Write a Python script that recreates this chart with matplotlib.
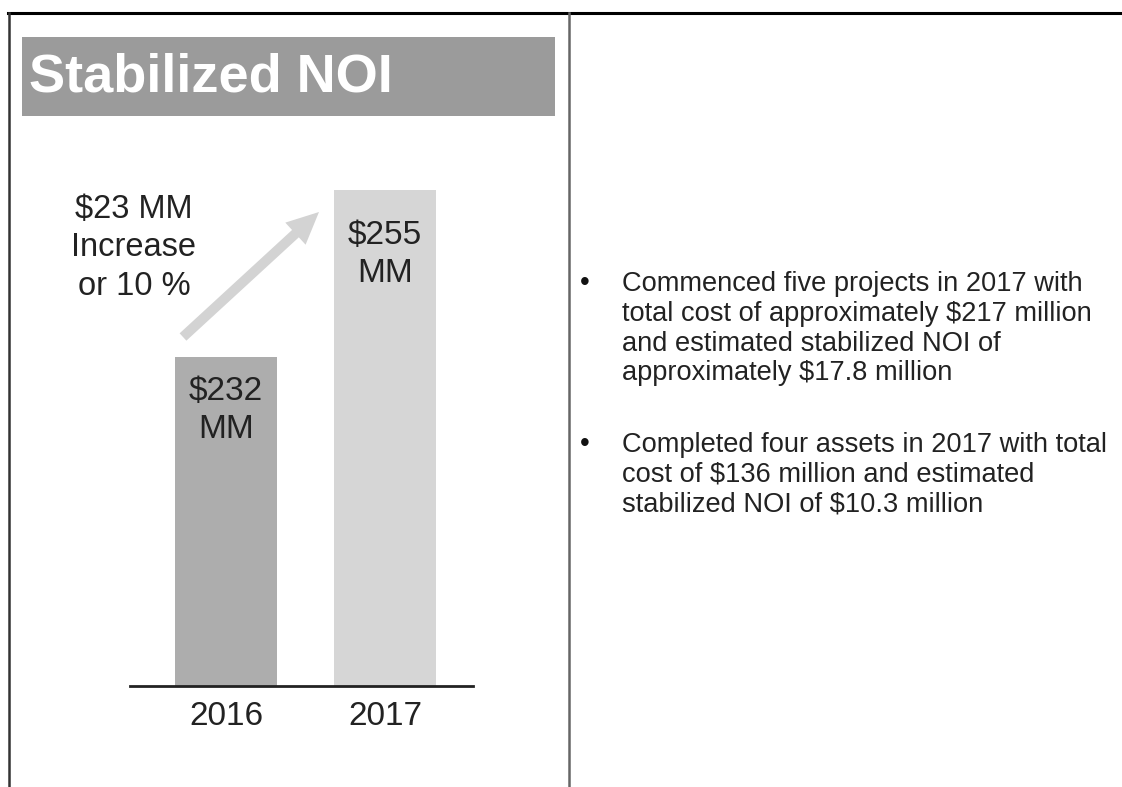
import matplotlib.pyplot as plt
from matplotlib.patches import Rectangle, FancyArrow

plt.rcParams["font.family"] = ["Liberation Sans", "DejaVu Sans"]

# data
years = ["2016", "2017"]
noi = [232, 255]
bar_labels = ["$232\nMM", "$255\nMM"]
bar_colors = ["#adadad", "#d6d6d6"]
change_note = "$23 MM\nIncrease\nor 10 %"
bullets = [
    "Commenced five projects in 2017 with\ntotal cost of approximately $217 million\n"
    "and estimated stabilized NOI of\napproximately $17.8 million",
    "Completed four assets in 2017 with total\ncost of $136 million and estimated\n"
    "stabilized NOI of $10.3 million",
]


def esc(s):
    return s.replace("$", "\\$")


W, H = 1122, 787
fig = plt.figure(figsize=(W / 100, H / 100), dpi=100)

# overlay in pixel coords for the frame, title box, arrow and bullet text
bg = fig.add_axes([0, 0, 1, 1])
bg.set_xlim(0, W)
bg.set_ylim(H, 0)
bg.axis("off")

bg.plot([8, W], [13, 13], color="black", lw=2.2)
bg.plot([9, 9], [13, H], color="#333333", lw=1.8)
bg.plot([569, 569], [13, H], color="#666666", lw=1.8)

bg.add_patch(Rectangle((22, 37), 533, 79, color="#9b9b9b", lw=0))
bg.text(29, 77, "Stabilized NOI", color="white", fontsize=39, weight="bold",
        va="center", ha="left")

bg.add_artist(FancyArrow(183, 337, 136, -125, width=10, head_width=30,
                         head_length=32, length_includes_head=True,
                         color="#d3d3d3", lw=0))
bg.text(134, 248, esc(change_note), fontsize=23.5, color="#222222",
        ha="center", va="center", linespacing=1.3)

for y0, txt in zip([271, 432], bullets):
    bg.text(585, y0 + 12, "\u2022", fontsize=20, color="#111111",
            ha="center", va="center")
    bg.text(622, y0, esc(txt), fontsize=19.6, color="#222222", va="top",
            linespacing=1.19)

# bar chart, baseline at y=686 px
y_lo = 186.6
px_per_unit = 7.25
top_px = 150
ax = fig.add_axes([130 / W, 1 - 686 / H, (473 - 130) / W, (686 - top_px) / H])
ax.patch.set_alpha(0)
ax.set_xlim(-0.604, 1.553)
ax.set_ylim(y_lo, y_lo + (686 - top_px) / px_per_unit)
x = list(range(len(years)))
ax.bar(x, noi, width=0.64, color=bar_colors)
label_gap = [19, 30]  # px below bar top
for xi, v, lab, g in zip(x, noi, bar_labels, label_gap):
    ax.annotate(esc(lab), (xi, v), xytext=(0, -g * 0.72), textcoords="offset points",
                ha="center", va="top", fontsize=24, color="#222222",
                linespacing=1.3)
for s in ["top", "right", "left"]:
    ax.spines[s].set_visible(False)
ax.spines["bottom"].set_linewidth(2)
ax.spines["bottom"].set_color("#222222")
ax.set_yticks([])
ax.set_xticks(x)
ax.set_xticklabels(years, fontsize=24, color="#222222")
ax.tick_params(axis="x", length=0, pad=11)

fig.savefig("out.png", dpi=100)
